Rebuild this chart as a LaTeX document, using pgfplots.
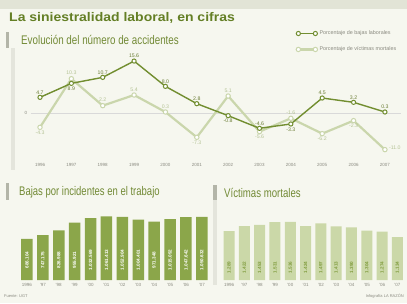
\documentclass[border=0pt]{standalone}
\usepackage{pgfplots}
\pgfplotsset{compat=1.18}
\usepackage{fontspec}
\setmainfont{Liberation Sans}
\definecolor{olive1}{HTML}{647F25}
\definecolor{olive2}{HTML}{728A35}
\definecolor{lineD}{HTML}{728E30}
\definecolor{lineL}{HTML}{CAD6AC}
\definecolor{labD}{HTML}{6A7C34}
\definecolor{labL}{HTML}{B5C396}
\definecolor{barD}{HTML}{8BA64A}
\definecolor{barL}{HTML}{CBD8A8}
\definecolor{barLtxt}{HTML}{7F9B3C}
\definecolor{bg}{HTML}{F6F7EF}
\definecolor{strip}{HTML}{E2E4D6}
\definecolor{tickgray}{HTML}{8A8A80}
\definecolor{band}{HTML}{E4E5DC}
\definecolor{bandD}{HTML}{B3B5A8}
\newcommand{\cond}[2][0.72]{\scalebox{#1}[1]{#2}}
\begin{document}
\begin{tikzpicture}[x=1pt,y=1pt]
\fill[bg] (0,0) rectangle (407,303);
\fill[strip] (0,294) rectangle (407,303);
% panel bands
\fill[band] (11,133) rectangle (15,255);
\fill[bandD] (6,255) rectangle (9,271);
\fill[bandD] (6,103) rectangle (9,120);
\fill[band] (213,18) rectangle (217,103);
\fill[bandD] (213,103) rectangle (217,118);
% titles
\node[anchor=west, inner sep=0, text=olive1] at (9,285) {\scalebox{1.12}[1]{\bfseries\fontsize{12.5}{14}\selectfont La siniestralidad laboral, en cifras}};
\node[anchor=west, inner sep=0, text=olive2] at (21,263) {\cond[0.785]{\fontsize{12.5}{14}\selectfont Evolución del número de accidentes}};
\node[anchor=west, inner sep=0, text=olive2] at (19,111) {\cond[0.76]{\fontsize{12.5}{14}\selectfont Bajas por incidentes en el trabajo}};
\node[anchor=west, inner sep=0, text=olive2] at (224,110) {\cond[0.77]{\fontsize{12.5}{14}\selectfont Víctimas mortales}};
\node[anchor=west, inner sep=0, font=\fontsize{4}{5}\selectfont, text=tickgray] at (4,7) {Fuente: UGT};
\node[anchor=east, inner sep=0, font=\fontsize{4}{5}\selectfont, text=tickgray] at (404,7) {Infografía LA RAZÓN};

% line chart
\begin{axis}[at={(30.6pt,143.4pt)}, anchor=south west, scale only axis,
  width=370pt, height=103.2pt,
  xmin=-0.3, xmax=11.5, ymin=-14, ymax=17,
  axis line style={draw=none}, major tick length=0pt,
  xtick={0,...,11},
  xticklabels={1996,1997,1998,1999,2000,2001,2002,2003,2004,2005,2006,2007},
  ytick={0}, yticklabels={0},
  ymajorgrids, grid style={color=gray!30, line width=0.6pt},
  tick label style={font=\fontsize{4.5}{5}\selectfont, text=tickgray},
  clip=false,
  reverse legend,
  legend style={at={(1,1)}, anchor=south east, yshift=0pt, xshift=1pt, draw=none, fill=none,
    font=\fontsize{5.4}{6}\selectfont, text=tickgray, row sep=6.5pt},
  legend cell align=left,
  legend image code/.code={\draw[#1] plot coordinates {(0pt,0pt) (17pt,0pt)};},
  ]
\addplot[color=lineL, line width=2.2pt, mark=*, mark size=2.2pt,
  mark options={fill=white, draw=lineL, line width=1pt}]
  coordinates {(0,-4.3)(1,10.3)(2,2.2)(3,5.4)(4,0.3)(5,-7.3)(6,5.1)(7,-5.6)(8,-1.6)(9,-6.2)(10,-2.3)(11,-11.0)};
\addlegendentry{Porcentaje de víctimas mortales}
\addplot[color=lineD, line width=1.4pt, mark=*, mark size=2.1pt,
  mark options={fill=white, draw=lineD, line width=1pt}]
  coordinates {(0,4.7)(1,8.9)(2,10.7)(3,15.6)(4,8.0)(5,2.8)(6,-0.8)(7,-4.6)(8,-3.3)(9,4.5)(10,3.2)(11,0.3)};
\addlegendentry{Porcentaje de bajas laborales}
% labels dark
\addplot[forget plot, draw=none, mark=none, nodes near coords, point meta=explicit symbolic,
  every node near coord/.style={font=\fontsize{5.2}{6}\selectfont, text=labD, anchor=south, inner sep=1pt, yshift=2pt}]
  coordinates {(0,4.7)[4.7] (2,10.7)[10.7] (3,15.6)[15.6] (4,8.0)[8.0] (5,2.8)[2.8] (7,-4.6)[-4.6] (9,4.5)[4.5] (10,3.2)[3.2] (11,0.3)[0.3]};
\addplot[forget plot, draw=none, mark=none, nodes near coords, point meta=explicit symbolic,
  every node near coord/.style={font=\fontsize{5.2}{6}\selectfont, text=labD, anchor=north, inner sep=1pt, yshift=-2.5pt}]
  coordinates {(1,8.9)[8.9] (6,-0.8)[-0.8] (8,-3.3)[-3.3]};
% labels light
\addplot[forget plot, draw=none, mark=none, nodes near coords, point meta=explicit symbolic,
  every node near coord/.style={font=\fontsize{5.2}{6}\selectfont, text=labL, anchor=south, inner sep=1pt, yshift=2.5pt}]
  coordinates {(1,10.3)[10.3] (2,2.2)[2.2] (3,5.4)[5.4] (4,0.3)[0.3] (6,5.1)[5.1] (8,-1.6)[-1.6]};
\addplot[forget plot, draw=none, mark=none, nodes near coords, point meta=explicit symbolic,
  every node near coord/.style={font=\fontsize{5.2}{6}\selectfont, text=labL, anchor=north, inner sep=1pt, yshift=-2.5pt}]
  coordinates {(0,-4.3)[-4.3] (5,-7.3)[-7.3] (7,-5.6)[-5.6] (9,-6.2)[-6.2] (10,-2.3)[-2.3]};
\addplot[forget plot, draw=none, mark=none, nodes near coords, point meta=explicit symbolic,
  every node near coord/.style={font=\fontsize{5.2}{6}\selectfont, text=labL, anchor=west, inner sep=1pt, xshift=3pt, yshift=2pt}]
  coordinates {(11,-11.0)[-11.0]};
\end{axis}

% left bars
\begin{axis}[at={(19pt,23pt)}, anchor=south west, scale only axis,
  width=190.8pt, height=72pt,
  xmin=-0.5, xmax=11.5, ymin=0, ymax=1200000,
  axis line style={draw=none}, major tick length=0pt,
  ytick=\empty, xtick={0,...,11},
  xticklabels={1996,'97,'98,'99,'00,'01,'02,'03,'04,'05,'06,'07},
  tick label style={font=\fontsize{4.5}{5}\selectfont, text=tickgray},
  clip=false]
\addplot[ybar, bar width=11.5pt, fill=barD, draw=none]
  coordinates {(0,686104)(1,747175)(2,826988)(3,955921)(4,1032569)(5,1061413)(6,1052904)(7,1004401)(8,971348)(9,1015092)(10,1047642)(11,1050632)};
\addplot[draw=none, mark=none, nodes near coords, point meta=explicit symbolic,
  every node near coord/.style={font=\bfseries\fontsize{4.6}{5}\selectfont, text=white, anchor=center, rotate=90, inner sep=0pt}]
  coordinates {(0,333000)[686.104] (1,333000)[747.175] (2,333000)[826.988] (3,333000)[955.921] (4,333000)[1.032.569] (5,333000)[1.061.413] (6,333000)[1.052.904] (7,333000)[1.004.401] (8,333000)[971.348] (9,333000)[1.015.092] (10,333000)[1.047.642] (11,333000)[1.050.632]};
\end{axis}

% right bars
\begin{axis}[at={(221.4pt,23pt)}, anchor=south west, scale only axis,
  width=183.6pt, height=64.4pt,
  xmin=-0.5, xmax=11.5, ymin=0, ymax=1700,
  axis line style={draw=none}, major tick length=0pt,
  ytick=\empty, xtick={0,...,11},
  xticklabels={1996,'97,'98,'99,'00,'01,'02,'03,'04,'05,'06,'07},
  tick label style={font=\fontsize{4.5}{5}\selectfont, text=tickgray},
  clip=false]
\addplot[ybar, bar width=11pt, fill=barL, draw=none]
  coordinates {(0,1289)(1,1422)(2,1453)(3,1531)(4,1536)(5,1424)(6,1497)(7,1413)(8,1390)(9,1304)(10,1274)(11,1134)};
\addplot[draw=none, mark=none, nodes near coords, point meta=explicit symbolic,
  every node near coord/.style={font=\bfseries\fontsize{4.6}{5}\selectfont, text=barLtxt, anchor=center, rotate=90, inner sep=0pt}]
  coordinates {(0,330)[1.289] (1,330)[1.422] (2,330)[1.453] (3,330)[1.531] (4,330)[1.536] (5,330)[1.424] (6,330)[1.497] (7,330)[1.413] (8,330)[1.390] (9,330)[1.304] (10,330)[1.274] (11,330)[1.134]};
\end{axis}
\pgfresetboundingbox
\useasboundingbox (0,0) rectangle (407,303);
\end{tikzpicture}
\end{document}
